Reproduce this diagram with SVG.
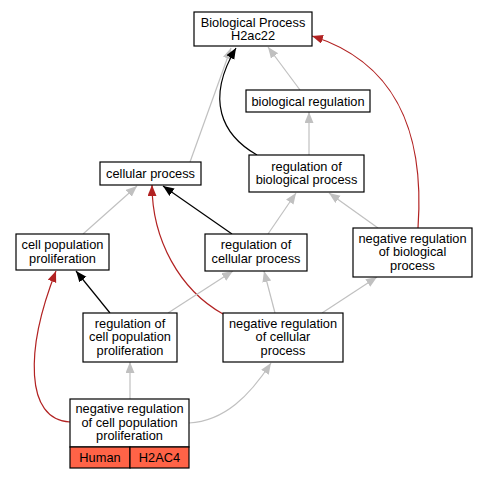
<svg xmlns="http://www.w3.org/2000/svg" width="487" height="480" viewBox="0 0 487 480">
<defs>
<style>
.n{fill:#fff;stroke:#000;stroke-width:1.2}
.t{font-family:"Liberation Sans",Arial,sans-serif;font-size:12.8px;fill:#000;text-anchor:middle}
.e{fill:none;stroke-width:1.2}
.g{stroke:#c0c0c0}
.k{stroke:#000}
.r{stroke:#b22222}
.h{fill:#ff6347;stroke:#000;stroke-width:1.2}
</style>
<marker id="ag" markerUnits="userSpaceOnUse" markerWidth="12" markerHeight="10" refX="11" refY="4.5" orient="auto"><path d="M0,0L11,4.5L0,9z" fill="#c0c0c0"/></marker>
<marker id="ak" markerUnits="userSpaceOnUse" markerWidth="12" markerHeight="10" refX="11" refY="4.5" orient="auto"><path d="M0,0L11,4.5L0,9z" fill="#000"/></marker>
<marker id="ar" markerUnits="userSpaceOnUse" markerWidth="12" markerHeight="10" refX="11" refY="4.5" orient="auto"><path d="M0,0L11,4.5L0,9z" fill="#b22222"/></marker>
</defs>
<rect width="487" height="480" fill="#fff"/>
<g id="edges">
<path class="e g" d="M190,162L231,48" marker-end="url(#ag)"/>
<path class="e k" d="M257,155C222,135 205,100 236,48" marker-end="url(#ak)"/>
<path class="e g" d="M300,90L268,47" marker-end="url(#ag)"/>
<path class="e g" d="M309,155L309,112" marker-end="url(#ag)"/>
<path class="e r" d="M418,228C425,130 395,62 312,36" marker-end="url(#ar)"/>
<path class="e g" d="M378,228L329,193" marker-end="url(#ag)"/>
<path class="e g" d="M83,234L137,186" marker-end="url(#ag)"/>
<path class="e k" d="M232,234L163,186" marker-end="url(#ak)"/>
<path class="e r" d="M223,314C180,290 152,240 152,185" marker-end="url(#ar)"/>
<path class="e g" d="M268,234L296,193" marker-end="url(#ag)"/>
<path class="e k" d="M110,313L76,271" marker-end="url(#ak)"/>
<path class="e g" d="M168,313L233,271" marker-end="url(#ag)"/>
<path class="e g" d="M275,313L264,271" marker-end="url(#ag)"/>
<path class="e g" d="M322,313L377,277" marker-end="url(#ag)"/>
<path class="e g" d="M130,399L130,362" marker-end="url(#ag)"/>
<path class="e g" d="M189,423C225,421 250,395 271,363" marker-end="url(#ag)"/>
<path class="e r" d="M70,422C25,420 25,350 56,271" marker-end="url(#ar)"/>
</g>
<g id="n1"><rect class="n" x="194" y="12" width="118" height="34"/><text class="t" x="253" y="26.5">Biological Process</text><text class="t" x="253" y="40">H2ac22</text></g>
<g id="n2"><rect class="n" x="246" y="90" width="124" height="22"/><text class="t" x="308" y="105.5">biological regulation</text></g>
<g id="n3"><rect class="n" x="100" y="162" width="101" height="23"/><text class="t" x="150.5" y="178">cellular process</text></g>
<g id="n4"><rect class="n" x="249" y="155" width="115" height="37"/><text class="t" x="306.5" y="170.5">regulation of</text><text class="t" x="306.5" y="184">biological process</text></g>
<g id="n5"><rect class="n" x="16" y="234" width="93" height="36"/><text class="t" x="62.5" y="249">cell population</text><text class="t" x="62.5" y="262.5">proliferation</text></g>
<g id="n6"><rect class="n" x="205" y="234" width="102" height="37"/><text class="t" x="256" y="249">regulation of</text><text class="t" x="256" y="262.5">cellular process</text></g>
<g id="n7"><rect class="n" x="353" y="228" width="119" height="49"/><text class="t" x="412.5" y="242.5">negative regulation</text><text class="t" x="412.5" y="256">of biological</text><text class="t" x="412.5" y="269.5">process</text></g>
<g id="n8"><rect class="n" x="83" y="313" width="94" height="49"/><text class="t" x="130" y="327.5">regulation of</text><text class="t" x="130" y="341">cell population</text><text class="t" x="130" y="354.5">proliferation</text></g>
<g id="n9"><rect class="n" x="223" y="313" width="120" height="49"/><text class="t" x="283" y="327.5">negative regulation</text><text class="t" x="283" y="341">of cellular</text><text class="t" x="283" y="354.5">process</text></g>
<g id="n10"><rect class="n" x="70" y="399" width="119" height="48"/><rect class="h" x="70" y="447" width="60" height="21"/><rect class="h" x="130" y="447" width="59" height="21"/><text class="t" x="129.5" y="413">negative regulation</text><text class="t" x="129.5" y="426.5">of cell population</text><text class="t" x="129.5" y="440">proliferation</text><text class="t" x="100" y="461.5">Human</text><text class="t" x="159.5" y="461.5">H2AC4</text></g>
</svg>
